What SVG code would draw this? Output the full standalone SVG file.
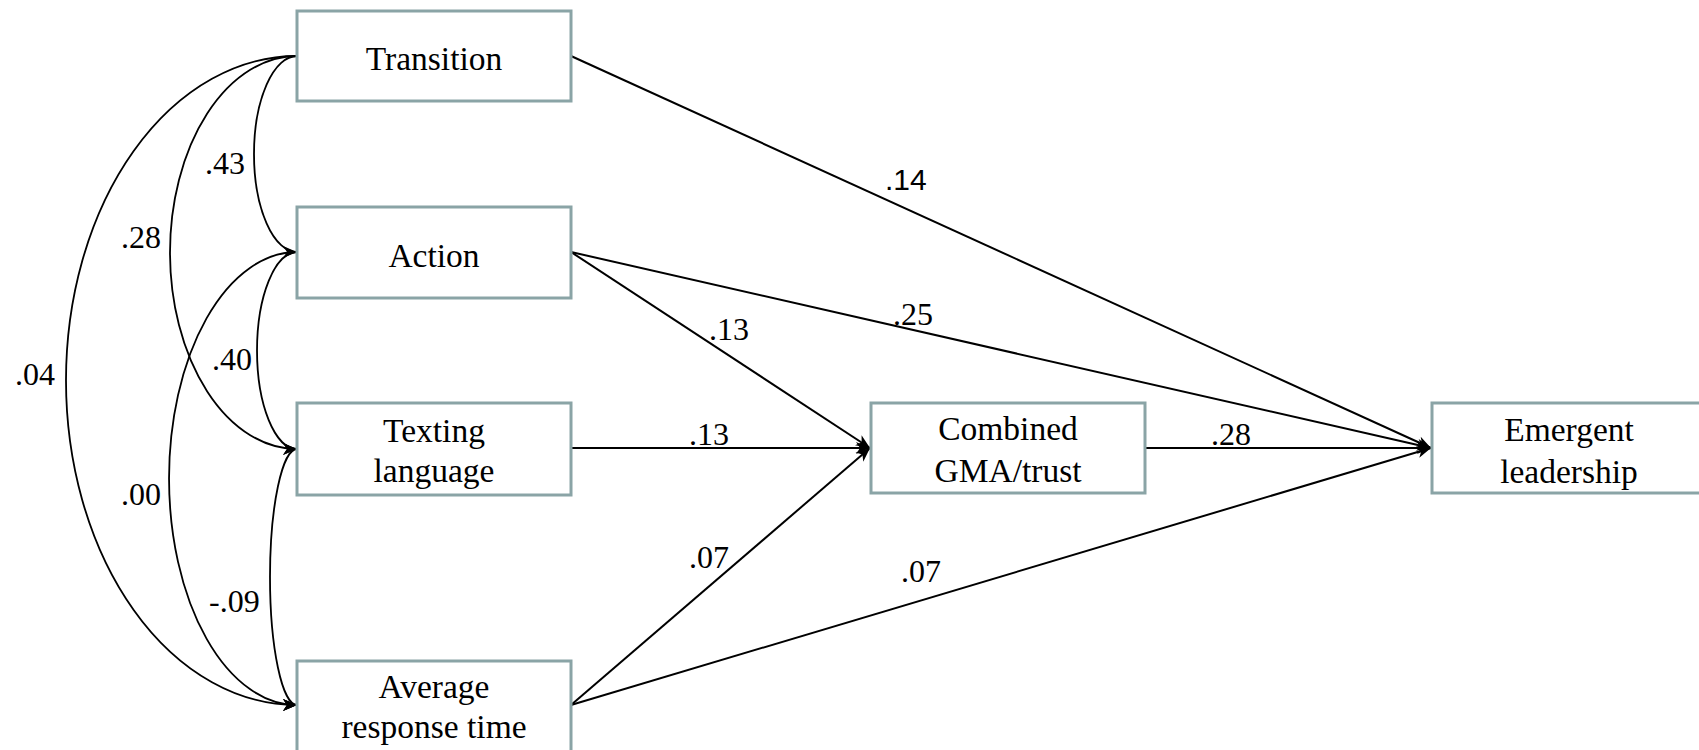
<svg xmlns="http://www.w3.org/2000/svg" width="1699" height="750" viewBox="0 0 1699 750">
<style>
.box{fill:#ffffff;stroke:#8aa4a6;stroke-width:3}
.nt{font-family:"Liberation Serif","Times New Roman",serif;font-size:33.5px;fill:#000;text-anchor:middle}
.lb{font-family:"Liberation Serif","Times New Roman",serif;font-size:32px;fill:#000}
.ln{fill:none;stroke:#000;stroke-width:2;marker-end:url(#arr)}
.cv{fill:none;stroke:#000;stroke-width:1.8;marker-end:url(#arr)}
</style>
<defs>
<marker id="arr" viewBox="-16 -8 18 16" refX="0" refY="0" markerWidth="18" markerHeight="16" orient="auto" markerUnits="userSpaceOnUse">
<path d="M0,0 L-14,-6 L-10,0 L-14,6 Z" fill="#000"/>
</marker>
</defs>
<rect width="1699" height="750" fill="#ffffff"/>
<g id="connectors">
<path class="cv" d="M297,56 A43,98 0 0 0 297,252"/>
<path class="cv" d="M297,56 A127,196.5 0 0 0 297,449"/>
<path class="cv" d="M297,56 A231,324.5 0 0 0 297,705"/>
<path class="cv" d="M297,252 A40,98.5 0 0 0 297,449"/>
<path class="cv" d="M297,252 A128,226.5 0 0 0 297,705"/>
<path class="cv" d="M297,449 A27,128 0 0 0 297,705"/>
<path class="ln" d="M571,56 L1431,448"/>
<path class="ln" d="M571,252 L1431,448"/>
<path class="ln" d="M571,252 L870,448"/>
<path class="ln" d="M571,448 L870,448"/>
<path class="ln" d="M571,705 L870,448"/>
<path class="ln" d="M571,705 L1431,448"/>
<path class="ln" d="M1145,448 L1431,448"/>
<text class="lb" x="205" y="174">.43</text>
<text class="lb" x="121" y="248">.28</text>
<text class="lb" x="15" y="385">.04</text>
<text class="lb" x="212" y="370">.40</text>
<text class="lb" x="121" y="505">.00</text>
<text class="lb" x="209" y="612">-.09</text>
<text class="lb" x="885" y="190" style="font-family:'Liberation Sans',Arial,sans-serif;font-size:30px">.14</text>
<text class="lb" x="893" y="325">.25</text>
<text class="lb" x="709" y="340">.13</text>
<text class="lb" x="689" y="445">.13</text>
<text class="lb" x="1211" y="445">.28</text>
<text class="lb" x="689" y="568">.07</text>
<text class="lb" x="901" y="582">.07</text>
</g>
<g id="transition">
<rect class="box" x="297" y="11" width="274" height="90"/>
<text class="nt" x="434" y="70">Transition</text>
</g>
<g id="action">
<rect class="box" x="297" y="207" width="274" height="91"/>
<text class="nt" x="434" y="267">Action</text>
</g>
<g id="texting">
<rect class="box" x="297" y="403" width="274" height="92"/>
<text class="nt" x="434" y="442">Texting</text>
<text class="nt" x="434" y="482">language</text>
</g>
<g id="average">
<rect class="box" x="297" y="661" width="274" height="92"/>
<text class="nt" x="434" y="698">Average</text>
<text class="nt" x="434" y="738">response  time</text>
</g>
<g id="combined">
<rect class="box" x="871" y="403" width="274" height="90"/>
<text class="nt" x="1008" y="440">Combined</text>
<text class="nt" x="1008" y="482">GMA/trust</text>
</g>
<g id="emergent">
<rect class="box" x="1432" y="403" width="274" height="90"/>
<text class="nt" x="1569" y="441">Emergent</text>
<text class="nt" x="1569" y="483">leadership</text>
</g>
</svg>
